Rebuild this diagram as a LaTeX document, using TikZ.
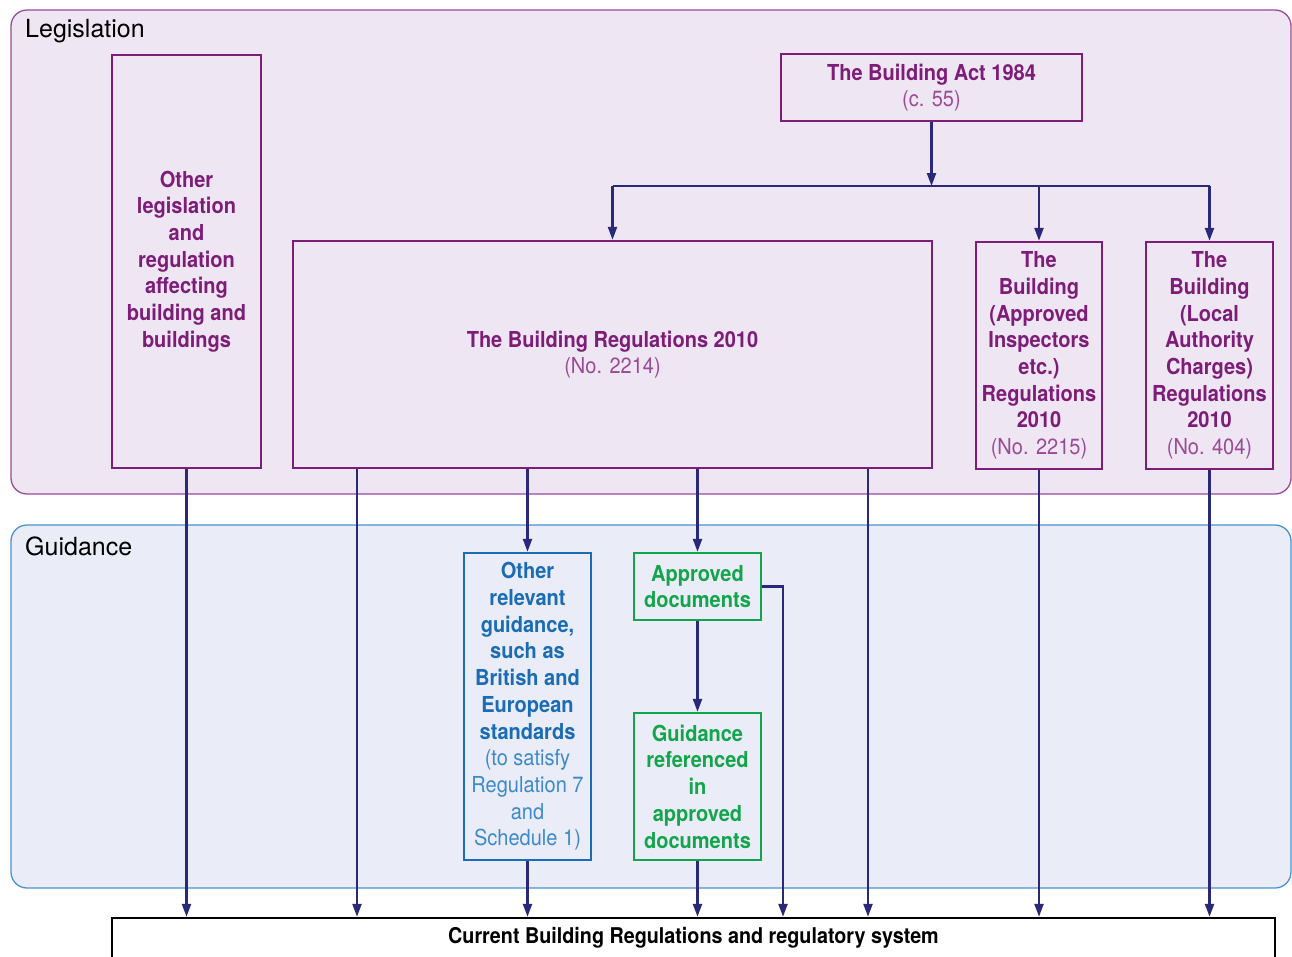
\documentclass[tikz,border=0pt]{standalone}
\usepackage{fontspec}
\setmainfont{TeX Gyre Heros}[FakeStretch=0.91]
\newfontfamily\titlefont{TeX Gyre Heros}
\usetikzlibrary{arrows.meta}
\definecolor{legfill}{HTML}{EEE6F2}
\definecolor{legdraw}{HTML}{9A4A98}
\definecolor{gdfill}{HTML}{EAECF7}
\definecolor{gddraw}{HTML}{4A93CF}
\definecolor{purp}{HTML}{7E1D79}
\definecolor{purplight}{HTML}{9B4A96}
\definecolor{navy}{HTML}{2A2878}
\definecolor{bluebox}{HTML}{1A6DB4}
\definecolor{bluelight}{HTML}{3D8ACB}
\definecolor{greenbox}{HTML}{13A54B}
\tikzset{
  panel/.style={rounded corners=16pt, line width=1.3pt},
  legpanel/.style={panel, fill=legfill, draw=legdraw},
  gdpanel/.style={panel, fill=gdfill, draw=gddraw},
  paneltitle/.style={anchor=west, inner sep=0pt, font=\titlefont\fontsize{25}{28}\selectfont, text=black},
  boxbase/.style={inner sep=0pt, align=center, line width=2.4pt, font=\fontsize{22}{26.7}\selectfont\bfseries},
  pbox/.style={boxbase, draw=purp, text=purp},
  bbox/.style={boxbase, draw=bluebox, text=bluebox},
  gbox/.style={boxbase, draw=greenbox, text=greenbox},
  kbox/.style={inner sep=0pt, align=center, line width=2.4pt, draw=black, fill=white, text=black, font=\fontsize{21.7}{25}\selectfont\bfseries},
  arr/.style={draw=navy, line width=2.3pt, -{Triangle[length=13pt,width=9pt]}},
  plain/.style={draw=navy, line width=2.3pt},
}
\newcommand{\pl}[1]{{\mdseries\color{purplight}#1}}
\newcommand{\bl}[1]{{\mdseries\color{bluelight}#1}}
\begin{document}
\begin{tikzpicture}[x=1pt,y=-1pt]
\useasboundingbox (0,0) rectangle (1292,956);
\clip (0,0) rectangle (1292,956);
% panels
\draw[legpanel] (11,10) rectangle (1291,494);
\node[paneltitle] (legt) at (25,31) {Legislation};
\draw[gdpanel] (11,525) rectangle (1291,888);
\node[paneltitle] (gdt) at (25,546) {Guidance};
% legislation boxes
\node[pbox, minimum width=149pt, minimum height=413pt] (oth) at (186.5,261.5) {Other\\legislation\\and\\regulation\\affecting\\building and\\buildings};
\node[pbox, minimum width=301pt, minimum height=67pt] (act) at (931.5,87.5) {The Building Act 1984\\\pl{(c. 55)}};
\node[pbox, minimum width=639pt, minimum height=227pt] (regs) at (612.5,354.5) {The Building Regulations 2010\\\pl{(No. 2214)}};
\node[pbox, minimum width=126pt, minimum height=227pt] (ai) at (1039,355.5) {The\\Building\\(Approved\\Inspectors\\etc.)\\Regulations\\2010\\\pl{(No. 2215)}};
\node[pbox, minimum width=127pt, minimum height=227pt] (la) at (1209.5,355.5) {The\\Building\\(Local\\Authority\\Charges)\\Regulations\\2010\\\pl{(No. 404)}};
% guidance boxes
\node[bbox, minimum width=127pt, minimum height=307pt] (og) at (527.5,706.5) {Other\\relevant\\guidance,\\such as\\British and\\European\\standards\\\bl{(to satisfy}\\\bl{Regulation 7}\\\bl{and}\\\bl{Schedule 1)}};
\node[gbox, minimum width=127pt, minimum height=67pt] (ad) at (697.5,586.5) {Approved\\documents};
\node[gbox, minimum width=127pt, minimum height=147pt] (gr) at (697.5,786.5) {Guidance\\referenced\\in\\approved\\documents};
% bottom box
\node[kbox, minimum width=1163pt, minimum height=40pt] (cur) at (693.5,938) {Current Building Regulations and regulatory system};
% connectors from the Act
\coordinate (j) at (act.south |- 0,186);
\draw[arr] (act.south) -- (j);
\draw[plain] (j -| regs.north) -- (j -| la.north);
\draw[arr] (j -| regs.north) -- (regs.north);
\draw[arr] (j -| ai.north) -- (ai.north);
\draw[arr] (j -| la.north) -- (la.north);
% from regulations
\draw[arr] (regs.south -| og.north) -- (og.north);
\draw[arr] (regs.south -| ad.north) -- (ad.north);
\draw[arr] (regs.south -| 357,0) -- (cur.north -| 357,0);
\draw[arr] (regs.south -| 868,0) -- (cur.north -| 868,0);
% other verticals
\draw[arr] (oth.south) -- (cur.north -| oth.south);
\draw[arr] (ai.south) -- (cur.north -| ai.south);
\draw[arr] (la.south) -- (cur.north -| la.south);
% guidance
\draw[arr] (ad.south) -- (gr.north);
\draw[arr] (og.south) -- (cur.north -| og.south);
\draw[arr] (gr.south) -- (cur.north -| gr.south);
\draw[arr] (ad.east) -| (cur.north -| 783,0);
\end{tikzpicture}
\end{document}
